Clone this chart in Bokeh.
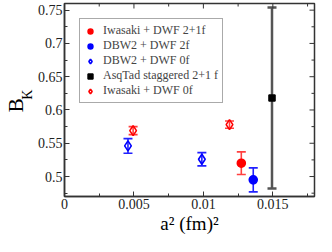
import math
from bokeh.plotting import figure
from bokeh.models import (ColumnDataSource, Whisker, TeeHead, FixedTicker, LinearAxis,
                          Legend, LegendItem, Range1d)
from bokeh.embed import file_html
from bokeh.resources import INLINE

# ---- data ----
iw21_x = [0.01273]
iw21_y = [0.520]
iw21_err = [0.017]

dbw2f_x = [0.01359]
dbw2f_y = [0.495]
dbw2f_err = [0.018]

dbw0_x = [0.00457, 0.00989]
dbw0_y = [0.546, 0.526]
dbw0_err = [0.011, 0.010]

asq_x = [0.01494]
asq_y = [0.618]
asq_err = [0.136]

iw0_x = [0.00494, 0.01188]
iw0_y = [0.569, 0.578]
iw0_err = [0.006, 0.0055]

x_ticks = [0, 0.005, 0.01, 0.015]
x_tick_labels = ["0", "0.005", "0.01", "0.015"]
x_minor = [0.0025, 0.0075, 0.0125, 0.0175]
y_ticks = [0.5, 0.55, 0.6, 0.65, 0.7, 0.75]
y_tick_labels = ["0.5", "0.55", "0.6", "0.65", "0.7", "0.75"]
y_minor = [0.475, 0.525, 0.575, 0.625, 0.675, 0.725]

X_MIN, X_MAX = 0, 0.018
Y_MIN, Y_MAX = 0.47, 0.76

SERIF = "Liberation Serif"
AXC = "#333333"
NBSP = "\u00a0"

p = figure(width=316, height=236, output_backend="svg", toolbar_location=None,
           x_range=Range1d(X_MIN, X_MAX), y_range=Range1d(Y_MIN, Y_MAX),
           min_border_top=3, min_border_right=2, min_border_left=0, min_border_bottom=0)
p.grid.visible = False
p.outline_line_color = AXC
p.outline_line_width = 1.5
p.background_fill_color = "white"
p.border_fill_color = "white"

xax = p.below[0]
yax = p.left[0]


def style_axis(ax, ticks, labels, minor):
    ax.ticker = FixedTicker(ticks=ticks, minor_ticks=minor)
    ax.major_tick_in = 5
    ax.major_tick_out = 0
    ax.minor_tick_in = 3
    ax.minor_tick_out = 0
    ax.axis_line_color = AXC
    ax.axis_line_width = 1.5
    ax.major_tick_line_color = AXC
    ax.minor_tick_line_color = AXC
    ax.major_label_text_font = SERIF
    ax.major_label_text_font_size = "14px"
    ax.major_label_text_color = "#222222"
    ax.major_label_standoff = 2
    ax.major_label_overrides = {t: l for t, l in zip(ticks, labels)}


style_axis(xax, x_ticks, x_tick_labels, x_minor)
style_axis(yax, y_ticks, y_tick_labels, y_minor)

xax.axis_label = "a² (fm)²"
xax.axis_label_text_font = SERIF
xax.axis_label_text_font_size = "19px"
xax.axis_label_text_font_style = "normal"
xax.axis_label_standoff = 1
xax.axis_label_text_color = "black"

# subscript "K" of the y label sits next to the tick labels
yax.axis_label = NBSP * 3 + "K"
yax.axis_label_text_font = SERIF
yax.axis_label_text_font_size = "14px"
yax.axis_label_text_font_style = "normal"
yax.axis_label_standoff = 0
yax.axis_label_text_color = "black"

# main "B" of the y label on an outer, tick-less axis
yax_b = LinearAxis(ticker=FixedTicker(ticks=[], minor_ticks=[]),
                   axis_line_color=None, major_tick_line_color=None,
                   minor_tick_line_color=None, major_tick_in=0, major_tick_out=0,
                   minor_tick_in=0, minor_tick_out=0)
yax_b.axis_label = "B" + NBSP * 2
yax_b.axis_label_text_font = SERIF
yax_b.axis_label_text_font_size = "21px"
yax_b.axis_label_text_font_style = "normal"
yax_b.axis_label_standoff = -11
yax_b.axis_label_text_color = "black"
p.add_layout(yax_b, "left")

# mirrored inward ticks on top and right frame edges
p.ray(x=x_ticks, y=[Y_MAX] * len(x_ticks), length=5, length_units="screen",
      angle=-math.pi / 2, line_color=AXC, line_width=1)
p.ray(x=x_minor, y=[Y_MAX] * len(x_minor), length=3, length_units="screen",
      angle=-math.pi / 2, line_color=AXC, line_width=1)
p.ray(x=[X_MAX] * len(y_ticks), y=y_ticks, length=5, length_units="screen",
      angle=math.pi, line_color=AXC, line_width=1)
p.ray(x=[X_MAX] * len(y_minor), y=y_minor, length=3, length_units="screen",
      angle=math.pi, line_color=AXC, line_width=1)


def add_series(xs, ys, errs, color, marker, fill, size, err_color, err_width, head):
    src = ColumnDataSource(dict(x=xs, y=ys,
                                upper=[a + b for a, b in zip(ys, errs)],
                                lower=[a - b for a, b in zip(ys, errs)]))
    w = Whisker(base="x", upper="upper", lower="lower", source=src, dimension="height",
                line_color=err_color, line_width=err_width,
                upper_head=TeeHead(size=head, line_color=err_color, line_width=err_width),
                lower_head=TeeHead(size=head, line_color=err_color, line_width=err_width))
    p.add_layout(w)
    r = p.scatter("x", "y", source=src, marker=marker, size=size,
                  line_color=color, line_width=1.6,
                  fill_color=color if fill else None)
    return r


r1 = add_series(iw21_x, iw21_y, iw21_err, "#ff0000", "circle", True, 8, "#ff4040", 1.6, 9)
r2 = add_series(dbw2f_x, dbw2f_y, dbw2f_err, "#0000ff", "circle", True, 8, "#2020ff", 1.6, 9)
r3 = add_series(dbw0_x, dbw0_y, dbw0_err, "#0000ff", "diamond", False, 10, "#2020ff", 1.6, 9)
r4 = add_series(asq_x, asq_y, asq_err, "#000000", "square", True, 6, "#555555", 2.5, 9)
r5 = add_series(iw0_x, iw0_y, iw0_err, "#ff0000", "diamond", False, 10, "#ff4040", 1.6, 9)

legend = Legend(items=[
    LegendItem(label="Iwasaki + DWF 2+1f", renderers=[r1]),
    LegendItem(label="DBW2 + DWF 2f", renderers=[r2]),
    LegendItem(label="DBW2 + DWF 0f", renderers=[r3]),
    LegendItem(label="AsqTad staggered 2+1 f", renderers=[r4]),
    LegendItem(label="Iwasaki + DWF 0f", renderers=[r5]),
], location="top_left")
legend.margin = 15
legend.padding = 4
legend.spacing = 0
legend.label_text_font = SERIF
legend.label_text_font_size = "12px"
legend.label_height = 12
legend.glyph_height = 12
legend.glyph_width = 12
legend.label_standoff = 7
legend.border_line_color = "#555555"
legend.border_line_width = 1
legend.background_fill_alpha = 1
p.add_layout(legend)

open("out.html", "w").write(file_html(p, INLINE))
